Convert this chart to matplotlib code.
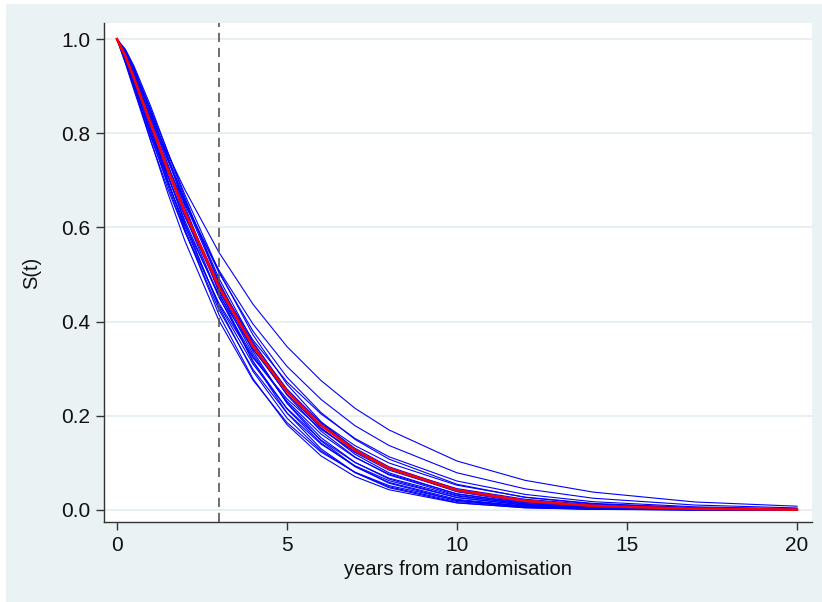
import matplotlib
matplotlib.use("Agg")
import matplotlib.pyplot as plt
from matplotlib.patches import Rectangle

plt.rcParams['font.family'] = ['Liberation Sans', 'DejaVu Sans']

# time grid (years) the survival curves are tabulated on
years = [0, 0.25, 0.5, 1, 1.5, 2, 3, 4, 5, 6, 7, 8, 10, 12, 14, 17, 20]

# mean survival curve
mean_surv = [1.0, 0.963, 0.917, 0.819, 0.722, 0.632, 0.474, 0.348, 0.252, 0.180, 0.127,
             0.0884, 0.0420, 0.0194, 0.0087, 0.0025, 0.0007]

# survival curves from the individual draws
draws = [
    [1.0, 0.962, 0.919, 0.835, 0.755, 0.680, 0.547, 0.437, 0.347, 0.275, 0.216, 0.170, 0.104, 0.063, 0.038, 0.017, 0.008],
    [1.0, 0.957, 0.910, 0.817, 0.729, 0.649, 0.509, 0.395, 0.305, 0.235, 0.179, 0.137, 0.079, 0.045, 0.025, 0.0105, 0.0043],
    [1.0, 0.966, 0.923, 0.832, 0.742, 0.656, 0.504, 0.380, 0.282, 0.207, 0.150, 0.108, 0.0546, 0.0268, 0.0128, 0.0041, 0.0013],
    [1.0, 0.953, 0.902, 0.801, 0.708, 0.622, 0.476, 0.361, 0.272, 0.204, 0.152, 0.113, 0.0615, 0.0331, 0.0176, 0.0067, 0.0025],
    [1.0, 0.973, 0.936, 0.850, 0.759, 0.669, 0.507, 0.372, 0.267, 0.1875, 0.129, 0.0877, 0.0387, 0.0162, 0.0065, 0.0015, 0.0003],
    [1.0, 0.963, 0.918, 0.821, 0.726, 0.636, 0.479, 0.354, 0.257, 0.184, 0.131, 0.0917, 0.0440, 0.0205, 0.0093, 0.0027, 0.0008],
    [1.0, 0.962, 0.915, 0.816, 0.718, 0.627, 0.467, 0.342, 0.246, 0.174, 0.122, 0.0847, 0.0397, 0.0181, 0.0080, 0.0022, 0.0006],
    [1.0, 0.972, 0.932, 0.840, 0.745, 0.652, 0.484, 0.348, 0.244, 0.1675, 0.1126, 0.0744, 0.0311, 0.0123, 0.0046, 0.0010, 0.0002],
    [1.0, 0.948, 0.892, 0.782, 0.681, 0.591, 0.439, 0.323, 0.236, 0.1714, 0.1238, 0.0889, 0.0453, 0.0228, 0.0113, 0.0039, 0.0013],
    [1.0, 0.961, 0.912, 0.809, 0.708, 0.614, 0.452, 0.326, 0.231, 0.1614, 0.1115, 0.0761, 0.0345, 0.0152, 0.0065, 0.0017, 0.0004],
    [1.0, 0.970, 0.929, 0.833, 0.734, 0.638, 0.467, 0.331, 0.228, 0.1536, 0.1013, 0.0657, 0.0263, 0.0099, 0.0036, 0.0007, 0.0001],
    [1.0, 0.978, 0.943, 0.856, 0.759, 0.663, 0.484, 0.337, 0.2266, 0.147, 0.0927, 0.0569, 0.0199, 0.0064, 0.0019, 0.0003, 0.0],
    [1.0, 0.959, 0.908, 0.801, 0.697, 0.601, 0.436, 0.310, 0.216, 0.1487, 0.1009, 0.0677, 0.0296, 0.0126, 0.0052, 0.0013, 0.0003],
    [1.0, 0.969, 0.926, 0.827, 0.725, 0.626, 0.453, 0.316, 0.2145, 0.1421, 0.0922, 0.0586, 0.0226, 0.0082, 0.0028, 0.0005, 0.0001],
    [1.0, 0.958, 0.905, 0.795, 0.689, 0.591, 0.425, 0.2986, 0.206, 0.140, 0.0939, 0.0622, 0.0265, 0.0109, 0.0044, 0.0010, 0.0002],
    [1.0, 0.976, 0.939, 0.847, 0.746, 0.645, 0.462, 0.315, 0.206, 0.130, 0.0795, 0.0473, 0.0155, 0.0046, 0.0013, 0.0002, 0.0],
    [1.0, 0.967, 0.921, 0.817, 0.711, 0.609, 0.431, 0.2946, 0.1952, 0.1261, 0.0796, 0.0493, 0.0179, 0.0061, 0.0020, 0.0003, 0.0],
    [1.0, 0.955, 0.899, 0.783, 0.672, 0.571, 0.402, 0.2759, 0.1857, 0.1231, 0.0804, 0.0518, 0.0209, 0.0081, 0.0031, 0.0007, 0.0001],
    [1.0, 0.966, 0.918, 0.810, 0.700, 0.595, 0.415, 0.2788, 0.1814, 0.1149, 0.0710, 0.0430, 0.0149, 0.0049, 0.0015, 0.0002, 0.0],
    [1.0, 0.972, 0.933, 0.844, 0.750, 0.658, 0.492, 0.357, 0.252, 0.1745, 0.1184, 0.0790, 0.0337, 0.0136, 0.0052, 0.0012, 0.0002],
    [1.0, 0.950, 0.897, 0.791, 0.694, 0.606, 0.457, 0.341, 0.253, 0.1864, 0.1367, 0.0998, 0.0526, 0.0273, 0.0140, 0.0051, 0.0018],
]

landmark = 3  # vertical reference at 3 years

x_ticks = [0, 5, 10, 15, 20]
y_ticks = [0.0, 0.2, 0.4, 0.6, 0.8, 1.0]

bg = '#EAF2F3'
fig = plt.figure(figsize=(8.22, 6.02), dpi=100, facecolor='white')
fig.patches.append(Rectangle((6 / 822, 0), 1, 1 - 4 / 602, transform=fig.transFigure,
                             facecolor=bg, edgecolor='none', zorder=-10))

ax = fig.add_axes([104 / 822, 1 - 522 / 602, (812 - 104) / 822, (522 - 23) / 602])
ax.set_facecolor('white')

for s in draws:
    ax.plot(years, s, color='#0000FF', lw=0.8, zorder=2)
ax.plot(years, mean_surv, color='#FF0000', lw=1.9, zorder=3)

ax.axvline(landmark, color='#555555', lw=1.2, linestyle=(0, (5.5, 3.5)), zorder=4)

ax.set_xlim(-0.38, 20.44)
ax.set_ylim(-0.0255, 1.034)
ax.set_xticks(x_ticks)
ax.set_yticks(y_ticks)
ax.set_yticklabels(['%.1f' % v for v in y_ticks])
ax.grid(axis='y', color='#E6EEF0', lw=1.3, zorder=0)
ax.set_axisbelow(True)

for side in ['top', 'right']:
    ax.spines[side].set_visible(False)
for side in ['left', 'bottom']:
    ax.spines[side].set_color('#333333')
    ax.spines[side].set_linewidth(1.0)

ax.tick_params(axis='both', direction='out', length=6, width=1.0, color='#333333',
               labelsize=15, labelcolor='#111111', pad=4)

ax.set_xlabel('years from randomisation', fontsize=14.5, color='#111111', labelpad=4)
ax.set_ylabel('S(t)', fontsize=14.5, color='#111111', labelpad=14)

fig.savefig('out.png', dpi=100, facecolor=fig.get_facecolor())
